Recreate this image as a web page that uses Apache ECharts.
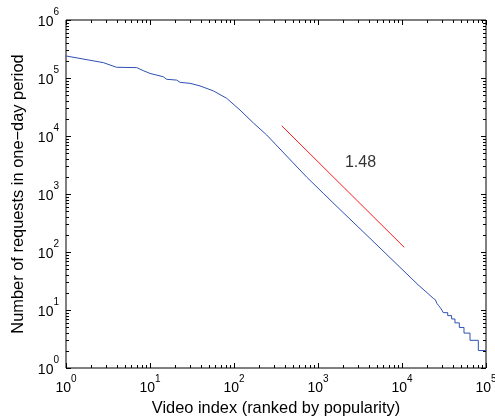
<!DOCTYPE html>
<html><head><meta charset="utf-8">
<script src="https://cdn.jsdelivr.net/npm/echarts@6/dist/echarts.min.js"></script>
<style>html,body{margin:0;padding:0;background:#fff}#c{width:495px;height:417px}</style>
</head><body><div id="c"></div>
<script>
// tick label exponents (labels are 10^e)
const xTickExps = [0, 1, 2, 3, 4, 5];
const yTickExps = [0, 1, 2, 3, 4, 5, 6];

// blue curve: video index (rank) and requests in one-day period
const rankX = [1, 2.78, 4.0, 6.95, 8.3, 10, 14.4, 15.8, 20.8, 22.8, 29.9, 39.4, 56.7, 81.8, 118, 170, 245, 353, 508, 733, 1156, 1780, 4160, 9460, 15500, 23600,
  25000, 25000, 26000, 26000, 27200, 27200, 28500, 28500, 29800, 29800, 31000, 31000, 35000, 35000, 39000, 39000, 42700, 42700, 48100, 48100, 54700, 54700, 64500, 64500, 81000, 81000, 100000];
const requestsY = [240000, 184000, 153000, 151000, 134000, 120000, 105000, 95000, 92000, 84000, 81000, 73000, 60000, 44700, 28000, 16800, 10400, 5970, 3420, 1960, 1028, 560, 172, 54.5, 27.3, 15.9,
  15, 14, 14, 13, 13, 12, 12, 11, 11, 10, 10, 9, 9, 8, 8, 7, 7, 6, 6, 5, 5, 4, 4, 3, 3, 2, 2];

// red reference line (slope 1.48)
const fitX = [370, 10650];
const fitY = [15000, 120];
const slopeLabel = ['1.48'];
const slopeLabelX = [3206];
const slopeLabelY = [3490];

const FONT = "'Liberation Sans', Arial, Helvetica, sans-serif";
const X_MIN = 1, X_MAX = 1e5, Y_MIN = 1, Y_MAX = 1e6;

const chart = echarts.init(document.getElementById('c'), null, {renderer: 'canvas'});

const rich = {
  b: {fontSize: 14, lineHeight: 21.5, fontFamily: FONT, color: '#000', verticalAlign: 'bottom'},
  s: {fontSize: 10, lineHeight: 21.5, fontFamily: FONT, color: '#000', verticalAlign: 'top'}
};
function fmt(exps) {
  return function (v) {
    const e = Math.round(Math.log10(v));
    return exps.indexOf(e) >= 0 ? '{b|10}{s|' + e + '}' : '';
  };
}

function renderTicks(params, api) {
  const p0 = api.coord([X_MIN, Y_MIN]);
  const p1 = api.coord([X_MAX, Y_MAX]);
  const left = p0[0], bottom = p0[1], right = p1[0], top = p1[1];
  const ch = [];
  const style = {stroke: '#000', lineWidth: 1};
  const MAJ = 5, MIN = 3;
  for (let d = 0; d <= 5; d++) {
    for (let m = 1; m <= 9; m++) {
      const v = m * Math.pow(10, d);
      if (v > X_MAX) break;
      const len = m === 1 ? MAJ : MIN;
      const x = Math.round(api.coord([v, Y_MIN])[0]) + 0.5;
      ch.push({type: 'line', shape: {x1: x, y1: bottom, x2: x, y2: bottom - len}, style: style});
      ch.push({type: 'line', shape: {x1: x, y1: top, x2: x, y2: top + len}, style: style});
    }
  }
  for (let d = 0; d <= 6; d++) {
    for (let m = 1; m <= 9; m++) {
      const v = m * Math.pow(10, d);
      if (v > Y_MAX) break;
      const len = m === 1 ? MAJ : MIN;
      const y = Math.round(api.coord([X_MIN, v])[1]) + 0.5;
      ch.push({type: 'line', shape: {x1: left, y1: y, x2: left + len, y2: y}, style: style});
      ch.push({type: 'line', shape: {x1: right, y1: y, x2: right - len, y2: y}, style: style});
    }
  }
  return {type: 'group', children: ch};
}

chart.setOption({
  animation: false,
  backgroundColor: '#fff',
  grid: {left: 66, top: 20, right: 9, bottom: 49, outerBoundsMode: 'none', containLabel: false,
    show: true, borderColor: '#000', borderWidth: 1, backgroundColor: 'transparent'},
  xAxis: {
    type: 'log', logBase: 10, min: X_MIN, max: X_MAX, interval: 1,
    name: 'Video index (ranked by popularity)', nameLocation: 'middle', nameGap: 31.5,
    nameTextStyle: {fontSize: 16.4, fontFamily: FONT, color: '#000'},
    axisLine: {show: false}, axisTick: {show: false}, splitLine: {show: false}, minorTick: {show: false},
    axisLabel: {formatter: fmt(xTickExps), rich: rich, margin: 6, showMinLabel: true, showMaxLabel: true, hideOverlap: false}
  },
  yAxis: {
    type: 'log', logBase: 10, min: Y_MIN, max: Y_MAX, interval: 1,
    name: 'Number of requests in one\u2212day period', nameLocation: 'middle', nameGap: 36.5,
    nameTextStyle: {fontSize: 16.4, fontFamily: FONT, color: '#000'},
    axisLine: {show: false}, axisTick: {show: false}, splitLine: {show: false}, minorTick: {show: false},
    axisLabel: {formatter: fmt(yTickExps), rich: rich, margin: 7, padding: [0, 0, 3.5, 0], showMinLabel: true, showMaxLabel: true, hideOverlap: false}
  },
  series: [
    {
      type: 'line', data: rankX.map((x, i) => [x, requestsY[i]]),
      symbol: 'none', lineStyle: {color: '#3050b4', width: 1}, silent: true, z: 3
    },
    {
      type: 'line', data: fitX.map((x, i) => [x, fitY[i]]),
      symbol: 'none', lineStyle: {color: '#ff1a1a', width: 1}, silent: true, z: 3
    },
    {
      type: 'scatter', symbolSize: 0, silent: true, z: 4,
      data: slopeLabelX.map((x, i) => ({value: [x, slopeLabelY[i]], name: slopeLabel[i]})),
      label: {show: true, position: 'inside', formatter: p => p.name, fontSize: 16, fontFamily: FONT, color: '#000'}
    },
    {
      type: 'custom', data: [[X_MIN, Y_MIN]], renderItem: renderTicks, silent: true, z: 5, clip: false
    }
  ]
});
</script>
</body></html>
